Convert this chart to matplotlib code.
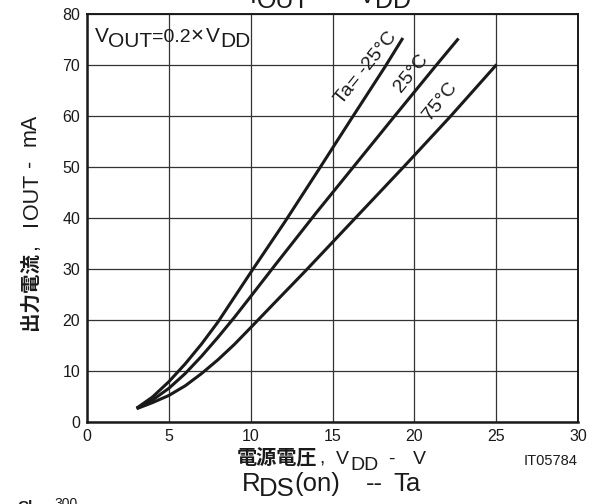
import numpy as np
import matplotlib
matplotlib.use("Agg")
import matplotlib.pyplot as plt
from matplotlib.transforms import IdentityTransform

# ---------------- data ----------------
vdd_m25 = [3.03, 4.0, 5.0, 6.0, 7.0, 8.0, 10.0, 12.1, 14.1, 16.1, 18.2, 19.3]
iout_m25 = [2.7, 4.9, 7.9, 11.4, 15.3, 19.6, 29.3, 39.3, 49.2, 59.2, 69.6, 75.3]
vdd_25 = [3.03, 4.0, 5.0, 6.0, 7.0, 8.0, 9.0, 10.0, 11.5, 14.0, 16.4, 18.8, 21.35, 22.7]
iout_25 = [2.7, 4.3, 6.6, 9.5, 12.9, 16.6, 20.5, 24.6, 30.8, 41.0, 50.5, 60.0, 70.0, 75.2]
vdd_75 = [3.03, 4.0, 5.0, 6.0, 7.0, 8.0, 9.0, 10.0, 11.5, 13.4, 16.4, 19.4, 22.2, 25.03]
iout_75 = [2.6, 3.8, 5.2, 7.1, 9.5, 12.2, 15.2, 18.5, 23.5, 29.8, 40.0, 50.2, 59.9, 70.1]
curve_labels = ["Ta= -25°C", "25°C", "75°C"]
x_ticks = [0, 5, 10, 15, 20, 25, 30]
y_ticks = [0, 10, 20, 30, 40, 50, 60, 70, 80]

W, H = 598, 504
LAT = "Liberation Sans"
CJK = ["Noto Sans CJK JP", "DejaVu Sans"]
INK = "#1a1a1a"

fig = plt.figure(figsize=(W / 100, H / 100), dpi=100)
ax = fig.add_axes([87 / W, (H - 422) / H, (578 - 87) / W, (422 - 14) / H])

for xs, ys in [(vdd_m25, iout_m25), (vdd_25, iout_25), (vdd_75, iout_75)]:
    ax.plot(xs, ys, color=INK, lw=2.2, solid_capstyle="butt", solid_joinstyle="round")

ax.set_xlim(0, 30)
ax.set_ylim(0, 80)
ax.set_xticks(x_ticks)
ax.set_yticks(y_ticks)
ax.set_xticklabels([str(v) for v in x_ticks], fontfamily=LAT, fontsize=11.5)
ax.set_yticklabels([str(v) for v in y_ticks], fontfamily=LAT, fontsize=11.5)
ax.tick_params(length=0, pad=5, colors=INK)
ax.grid(True, color="#333333", lw=0.9)
ax.set_axisbelow(True)
for side, sp in ax.spines.items():
    sp.set_color(INK)
    sp.set_linewidth(1.8 if side in ("left", "bottom") else 1.4)

# curve labels (rotated along curves)
lab_pos = [(15.55, 62.2), (19.2, 64.6), (20.95, 59.0)]
for (lx, ly), s in zip(lab_pos, curve_labels):
    ax.text(lx, ly, s, fontfamily=LAT, fontsize=14, rotation=51,
            rotation_mode="anchor", ha="left", va="baseline", color=INK)

lat = lambda sz: dict(fontfamily=LAT, fontsize=sz)
cjkb = lambda sz: dict(fontfamily=CJK, fontsize=sz, fontweight="bold")


def put(s, props, x, y, rot=0):
    """Place a text piece; x, y = baseline start in pixels from the top-left corner."""
    fig.text(x, H - y, s, transform=IdentityTransform(), rotation=rot,
             rotation_mode="anchor", ha="left", va="baseline", color=INK, **props)


# in-axes condition text
put("V", lat(15), 95, 41.7)
put("OUT", lat(15), 108, 46.7)
put("=0.2", lat(14), 152, 41.7)
put("×", lat(16), 190, 41.7)
put("V", lat(15), 206, 41.7)
put("DD", lat(15), 220, 46.7)

# x label
put("電源電圧", cjkb(14.5), 237, 464)
put(",", lat(14), 319, 464)
put("V", lat(14), 336, 464)
put("DD", lat(14), 350, 470)
put("-", lat(14), 388, 464)
put("V", lat(14), 413, 464)

# y label (rotated, x = baseline, y = start of the piece)
put("出力電流", cjkb(14), 36, 330, 90)
put(",", lat(15.5), 36, 250, 90)
put("I", lat(15.5), 37, 226, 90)
put("OUT", lat(15.5), 38, 219, 90)
put("-", lat(15.5), 36, 167, 90)
put("mA", lat(15.5), 36, 146, 90)

# figure code
put("IT05784", lat(10.5), 524, 465)

# neighbouring-chart titles (partly cut off by the figure edges)
put("I", lat(18), 250, 3)
put("OUT", lat(18), 257, 8.5)
put("--", lat(18), 326, 3)
put("V", lat(18), 359, 3)
put("DD", lat(18), 375, 8.5)
put("R", lat(18.5), 242, 491)
put("DS", lat(18.5), 259, 496)
put("(on)", lat(18.5), 294, 491)
put("--", lat(18.5), 366, 491)
put("Ta", lat(18.5), 393, 491)
put("Cl", dict(fontfamily=LAT, fontsize=11, fontweight="bold"), 17, 511)
put("300", lat(10), 54, 508)

fig.savefig("out.png", dpi=100)
